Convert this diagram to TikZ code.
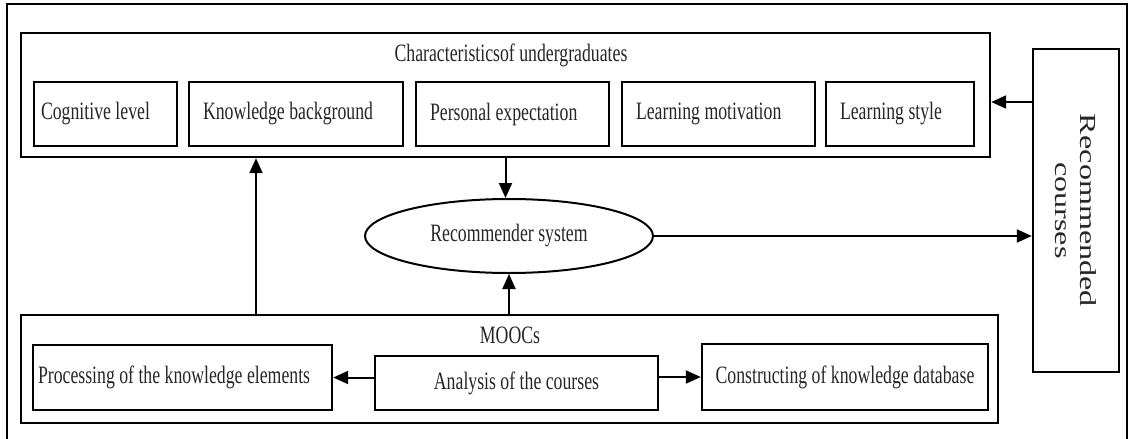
\documentclass[tikz,border=0pt]{standalone}
\usepackage{fontspec}
\usetikzlibrary{arrows.meta,shapes.geometric}
\newfontfamily\tnr[FakeStretch=0.71]{Liberation Serif}
\newfontfamily\tnrwide[FakeStretch=1.4]{Liberation Serif}
\definecolor{ink}{gray}{0.15}
% left-aligned text of a fixed width inside a box
\newcommand\lefttext[2]{\makebox[#1][l]{#2}}
\tikzset{
  txt/.style={font=\tnr\fontsize{25}{28}\selectfont, text=ink},
  frame/.style={draw=black, line width=2.4pt},
  box/.style 2 args={frame, rectangle, txt, minimum width=#1, minimum height=#2, inner ysep=0pt},
  arr/.style={draw=black, line width=2pt, -{Triangle[length=15pt,width=13pt]}},
}
\begin{document}
\begin{tikzpicture}[x=1pt,y=-1pt]
\useasboundingbox (0,0) rectangle (1133,439);
% outer frame (open at the lower edge)
\draw[line width=1.8pt] (7,445) -- (7,4) -- (1127,4) -- (1127,445);

% characteristics of undergraduates
\node[box={969pt}{124pt}] (top) at (505.5,95) {};
\node[txt] (toptitle) at (511,55) {Characteristicsof undergraduates};
\node[box={143pt}{64pt}, inner xsep=7pt] (cog) at (105.5,114) {\lefttext{129pt}{Cognitive level}};
\node[box={214pt}{64pt}, inner xsep=14pt] (kb) at (296,114) {\lefttext{186pt}{Knowledge background}};
\node[box={193pt}{64pt}, inner xsep=14pt] (pe) at (512.5,114) {\lefttext{165pt}{Personal expectation}};
\node[box={193pt}{64pt}, inner xsep=14pt] (lm) at (718.5,114) {\lefttext{165pt}{Learning motivation}};
\node[box={148pt}{64pt}, inner xsep=14pt] (ls) at (900,114) {\lefttext{120pt}{Learning style}};

% recommender system
\node[frame, line width=2pt, ellipse, txt, minimum width=288pt, minimum height=74pt, inner sep=0pt] (rs) at (509,236) {Recommender system};

% recommended courses (rotated, so width runs along the text)
\node[frame, rectangle, minimum width=323pt, minimum height=86pt, inner sep=0pt,
      rotate=-90, font=\tnrwide\fontsize{23}{25}\selectfont, text=ink, align=center]
      (rc) at (1076,210.5) {Recommended\\courses};

% MOOCs
\node[box={977pt}{108pt}] (moocs) at (509.5,369) {};
\node[txt] (mtitle) at (510,335) {MOOCs};
\node[box={299pt}{65pt}, inner xsep=5pt] (proc) at (182.5,377.5) {\lefttext{289pt}{Processing of the knowledge elements}};
\node[box={283pt}{54pt}] (ana) at (516.5,383) {Analysis of the courses};
\node[box={286pt}{66pt}] (con) at (845,377) {Constructing of knowledge database};

% connectors
\coordinate (fb) at (1033,102);
\coordinate (up) at (256,315);
\draw[arr] (top.south) -- (top.south |- rs.north);
\draw[arr] (moocs.north -| rs.south) -- (rs.south);
\draw[arr] (up) -- (up |- top.south);
\draw[arr] (fb) -- (fb -| top.east);
\draw[arr] (rs.east) -- (rs.east -| rc.south);
\draw[arr] (proc.east -| ana.west) -- (proc.east);
\draw[arr] (con.west -| ana.east) -- (con.west);
\end{tikzpicture}
\end{document}
